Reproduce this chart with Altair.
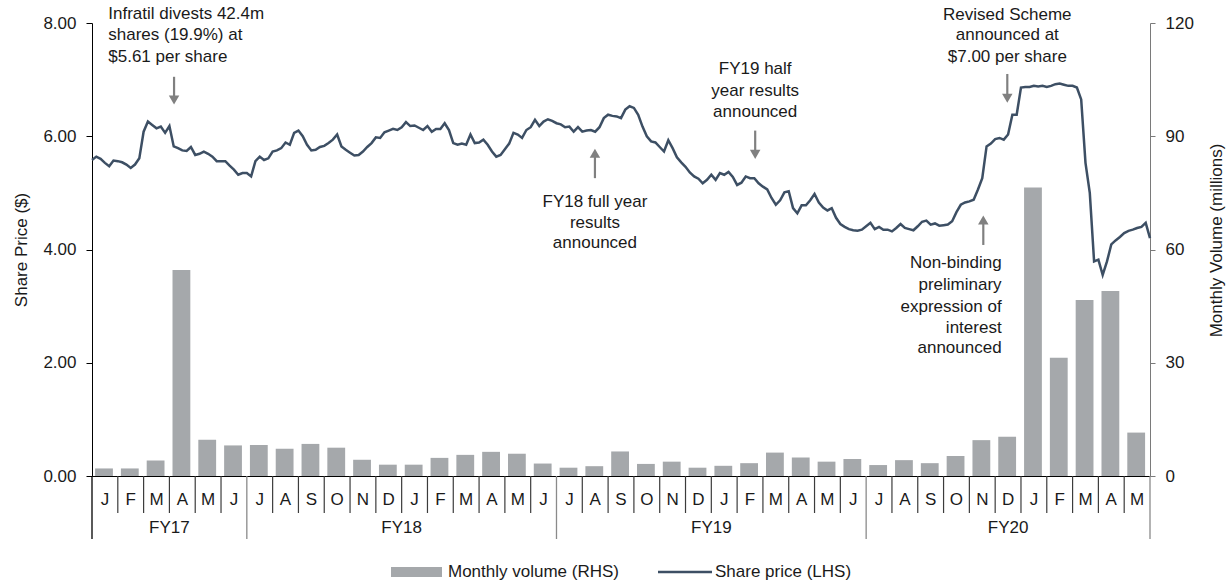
import altair as alt
import pandas as pd

# ---- data -------------------------------------------------------------
month_letters = [
    "J", "F", "M", "A", "M", "J",
    "J", "A", "S", "O", "N", "D", "J", "F", "M", "A", "M", "J",
    "J", "A", "S", "O", "N", "D", "J", "F", "M", "A", "M", "J",
    "J", "A", "S", "O", "N", "D", "J", "F", "M", "A", "M",
]

# monthly traded volume, millions of shares (Jan 2017 - May 2020)
monthly_volume = [
    2.0, 2.0, 4.1, 54.6, 9.6, 8.1,
    8.2, 7.2, 8.5, 7.5, 4.3, 3.0, 3.0, 4.8, 5.6, 6.4, 5.9, 3.3,
    2.2, 2.6, 6.5, 3.2, 3.8, 2.2, 2.7, 3.4, 6.2, 4.9, 3.8, 4.5,
    2.9, 4.2, 3.4, 5.3, 9.5, 10.4, 76.4, 31.3, 46.6, 49.0, 11.5,
]

fiscal_years = ["FY17", "FY18", "FY19", "FY20"]
fy_first_month = [0, 6, 18, 30]
n_months = len(month_letters)

# share price ($), six readings per month from Jan 2017 to end of May 2020
samples_per_month = 6
share_price = [
    5.58, 5.64, 5.60, 5.53, 5.47, 5.57, 5.56, 5.54, 5.50, 5.44, 5.50, 5.61,
    6.08, 6.26, 6.20, 6.14, 6.17, 6.06, 6.18, 5.82, 5.79, 5.75, 5.74, 5.81,
    5.67, 5.69, 5.73, 5.69, 5.64, 5.56, 5.56, 5.56, 5.48, 5.41, 5.32, 5.35,
    5.35, 5.29, 5.56, 5.64, 5.58, 5.61, 5.73, 5.75, 5.79, 5.89, 5.85, 6.06,
    6.10, 6.00, 5.85, 5.75, 5.76, 5.81, 5.83, 5.88, 5.94, 6.03, 5.82, 5.76,
    5.71, 5.66, 5.67, 5.73, 5.81, 5.88, 5.98, 5.97, 6.07, 6.10, 6.13, 6.11,
    6.16, 6.25, 6.18, 6.19, 6.15, 6.11, 6.18, 6.08, 6.13, 6.13, 6.23, 6.11,
    5.88, 5.85, 5.87, 5.85, 6.03, 5.88, 5.89, 5.94, 5.85, 5.73, 5.64, 5.67,
    5.77, 5.87, 6.06, 6.03, 5.97, 6.11, 6.16, 6.29, 6.18, 6.26, 6.30, 6.27,
    6.23, 6.21, 6.16, 6.17, 6.08, 6.16, 6.08, 6.10, 6.11, 6.08, 6.16, 6.32,
    6.38, 6.36, 6.35, 6.32, 6.47, 6.53, 6.50, 6.38, 6.17, 6.00, 5.91, 5.89,
    5.81, 5.73, 5.93, 5.79, 5.63, 5.54, 5.46, 5.36, 5.29, 5.25, 5.17, 5.23,
    5.32, 5.23, 5.35, 5.32, 5.37, 5.28, 5.14, 5.18, 5.29, 5.26, 5.26, 5.17,
    5.11, 5.06, 4.91, 4.79, 4.87, 5.01, 5.03, 4.73, 4.64, 4.78, 4.78, 4.87,
    4.98, 4.83, 4.74, 4.69, 4.73, 4.56, 4.45, 4.40, 4.36, 4.34, 4.33, 4.35,
    4.41, 4.47, 4.36, 4.40, 4.35, 4.35, 4.32, 4.38, 4.45, 4.38, 4.36, 4.34,
    4.41, 4.49, 4.51, 4.44, 4.46, 4.42, 4.43, 4.44, 4.50, 4.66, 4.79, 4.83,
    4.85, 4.88, 5.06, 5.26, 5.82, 5.87, 5.95, 5.97, 5.94, 6.03, 6.38, 6.38,
    6.86, 6.87, 6.87, 6.89, 6.88, 6.89, 6.87, 6.89, 6.92, 6.93, 6.91, 6.89,
    6.89, 6.86, 6.65, 5.53, 5.00, 3.79, 3.82, 3.55, 3.79, 4.09, 4.16, 4.22,
    4.29, 4.33, 4.35, 4.38, 4.40, 4.47, 4.20,
]

# event notes: text lines placed in (month, price) space
note_lines = [
    ("Infratil divests 42.4m", 0.63, 8.16, "left"),
    ("shares (19.9%) at", 0.63, 7.79, "left"),
    ("$5.61 per share", 0.63, 7.40, "left"),
    ("FY18 full year", 19.49, 4.84, "center"),
    ("results", 19.49, 4.47, "center"),
    ("announced", 19.49, 4.11, "center"),
    ("FY19 half", 25.70, 7.18, "center"),
    ("year results", 25.70, 6.80, "center"),
    ("announced", 25.70, 6.42, "center"),
    ("Revised Scheme", 35.47, 8.14, "center"),
    ("announced at", 35.47, 7.79, "center"),
    ("$7.00 per share", 35.47, 7.40, "center"),
    ("Non-binding", 35.25, 3.76, "right"),
    ("preliminary", 35.25, 3.37, "right"),
    ("expression of", 35.25, 2.99, "right"),
    ("interest", 35.25, 2.61, "right"),
    ("announced", 35.25, 2.26, "right"),
]

# event arrows: month, tail price, arrow-head price, direction
note_arrows = [
    (3.18, 7.05, 6.64, "triangle-down"),
    (19.49, 5.26, 5.70, "triangle-up"),
    (25.70, 6.10, 5.68, "triangle-down"),
    (35.47, 7.10, 6.67, "triangle-down"),
    (34.54, 4.08, 4.52, "triangle-up"),
]

# ---- styling ----------------------------------------------------------
FONT = "Liberation Sans"
TEXT = "#1a1a1a"
BAR = "#a5a8ab"
LINE = "#3d4f64"
ARROW = "#808080"
W, H = 1058, 453

x_scale = alt.Scale(domain=[0, n_months], nice=False, zero=False)
price_scale = alt.Scale(domain=[0, 8], nice=False, zero=True)
volume_scale = alt.Scale(domain=[0, 120], nice=False, zero=True)
x_axis = alt.Axis(domain=True, domainColor="#000000", domainWidth=1, ticks=False,
                  labels=False, grid=False, title=None)


def xq(field):
    return alt.X(field, type="quantitative", scale=x_scale, axis=x_axis)


def yp(field):
    return alt.Y(field, type="quantitative", scale=price_scale, axis=None)


# ---- tables -----------------------------------------------------------
bars_df = pd.DataFrame({"m": range(n_months), "month": month_letters,
                        "volume": monthly_volume})
bars_df["left"] = bars_df["m"] + 0.12
bars_df["right"] = bars_df["m"] + 0.81
bars_df["mid"] = bars_df["m"] + 0.5

line_df = pd.DataFrame({"t": [k / samples_per_month for k in range(len(share_price))],
                        "price": share_price})

notes_df = pd.DataFrame(note_lines, columns=["label", "t", "p", "align"])
arrows_df = pd.DataFrame(note_arrows, columns=["t", "tail", "head", "shape"])

fy_bounds = fy_first_month + [n_months]
fy_df = pd.DataFrame({
    "fy": fiscal_years,
    "mid": [(a + b) / 2 for a, b in zip(fy_bounds[:-1], fy_bounds[1:])],
})
fy_sep_df = pd.DataFrame({"t": fy_bounds,
                          "col": ["#000000"] + ["#8a8a8a"] * (len(fy_bounds) - 1)})
month_sep_df = pd.DataFrame({"t": [m for m in range(1, n_months) if m not in fy_first_month]})

# ---- volume bars (right axis) ----------------------------------------
bars = alt.Chart(bars_df).mark_bar(color=BAR).encode(
    x=xq("left"),
    x2="right:Q",
    y=alt.Y("volume:Q", scale=volume_scale,
            axis=alt.Axis(orient="right", values=[0, 30, 60, 90, 120], format="d",
                          title="Monthly Volume (millions)", grid=False,
                          domainColor="#7a7a7a", tickColor="#7a7a7a", tickSize=5,
                          labelPadding=10, labelFontSize=17, labelColor=TEXT,
                          titleFontSize=17, titleFontWeight="normal", titleColor=TEXT,
                          titleAngle=270, titleX=66, titleY=217,
                          titleAlign="center", titleBaseline="middle")),
    y2=alt.datum(0),
)

# ---- share price line and notes (left axis) --------------------------
line = alt.Chart(line_df).mark_line(color=LINE, strokeWidth=2.5).encode(
    x=xq("t"),
    y=alt.Y("price:Q", scale=price_scale,
            axis=alt.Axis(orient="left", values=[0, 2, 4, 6, 8], format=".2f",
                          title="Share Price ($)", grid=False,
                          domainColor="#000000", tickColor="#000000", tickSize=6,
                          labelPadding=10, labelFontSize=17, labelColor=TEXT,
                          titleFontSize=17, titleFontWeight="normal", titleColor=TEXT,
                          titleAngle=270, titleX=-71, titleY=H / 2,
                          titleAlign="center", titleBaseline="middle")),
)

arrow_shafts = alt.Chart(arrows_df).mark_rule(color=ARROW, strokeWidth=2.2).encode(
    x=xq("t"), y=yp("tail"), y2="head:Q",
)
arrow_heads = alt.Chart(arrows_df).mark_point(
    filled=True, color=ARROW, opacity=1, size=110, strokeWidth=0
).encode(
    x=xq("t"), y=yp("head"),
    shape=alt.Shape("shape:N", scale=None),
)

note_layers = []
for al in ["left", "center", "right"]:
    note_layers.append(
        alt.Chart(notes_df[notes_df["align"] == al]).mark_text(
            align=al, baseline="middle", fontSize=17, font=FONT, color=TEXT
        ).encode(x=xq("t"), y=yp("p"), text="label:N")
    )

# ---- month / fiscal-year category axis --------------------------------
month_seps = alt.Chart(month_sep_df).mark_rule(color="#3c3c3c", strokeWidth=1.2).encode(
    x=xq("t"), y=alt.value(H), y2=alt.value(H + 37),
)
month_text = alt.Chart(bars_df).mark_text(
    baseline="middle", fontSize=17, font=FONT, color=TEXT
).encode(x=xq("mid"), y=alt.value(H + 24), text="month:N")
fy_seps = alt.Chart(fy_sep_df).mark_rule(strokeWidth=1.3).encode(
    x=xq("t"), y=alt.value(H), y2=alt.value(H + 63),
    color=alt.Color("col:N", scale=None),
)
fy_text = alt.Chart(fy_df).mark_text(
    baseline="middle", fontSize=17, font=FONT, color=TEXT
).encode(x=xq("mid"), y=alt.value(H + 52), text="fy:N")

# ---- legend -----------------------------------------------------------
legend_src = pd.DataFrame({"k": [0]})
leg_bar = alt.Chart(legend_src).mark_rect(color=BAR).encode(
    x=alt.value(299), x2=alt.value(350), y=alt.value(H + 91), y2=alt.value(H + 101)
)
leg_bar_text = alt.Chart(legend_src).mark_text(
    align="left", baseline="middle", fontSize=17, font=FONT, color=TEXT
).encode(x=alt.value(356), y=alt.value(H + 96), text=alt.value("Monthly volume (RHS)"))
leg_line = alt.Chart(legend_src).mark_rule(color=LINE, strokeWidth=2.5).encode(
    x=alt.value(566), x2=alt.value(620), y=alt.value(H + 96)
)
leg_line_text = alt.Chart(legend_src).mark_text(
    align="left", baseline="middle", fontSize=17, font=FONT, color=TEXT
).encode(x=alt.value(623), y=alt.value(H + 96), text=alt.value("Share price (LHS)"))

chart = alt.layer(
    bars, line, arrow_shafts, arrow_heads, *note_layers,
    month_seps, fy_seps, month_text, fy_text,
    leg_bar, leg_bar_text, leg_line, leg_line_text,
).resolve_scale(
    y="independent"
).properties(
    width=W, height=H,
    autosize=alt.AutoSizeParams(type="none"),
    padding={"left": 92, "top": 23, "right": 1231 - 92 - W, "bottom": 582 - 23 - H},
).configure(
    font=FONT
).configure_view(
    stroke=None
).configure_axis(
    labelFont=FONT, titleFont=FONT
)

chart.save("out.html", embed_options={"renderer": "svg", "actions": False})
